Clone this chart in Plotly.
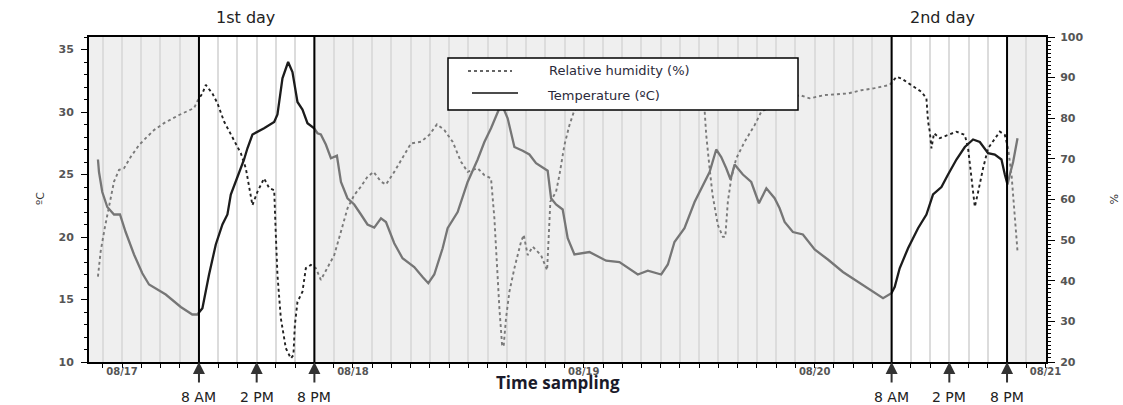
import pandas as pd
import plotly.graph_objects as go

BASE = pd.Timestamp("2014-08-17 00:00")

# ---- data (hours after 08/17 00:00) ----
temp_hours = [-2.50, -2.39, -2.05, -1.53, -0.83, -0.21, 0.38, 1.25, 2.11, 2.81, 4.55, 6.11, 7.31, 7.83,
              8.36, 9.05, 9.75, 10.44, 10.96, 11.31, 12.00, 12.69, 13.04, 13.56, 14.77, 15.82, 16.16,
              16.68, 17.27, 17.72, 18.24, 18.76, 19.28, 19.98, 20.32, 20.67, 21.19, 21.72, 22.34, 22.76,
              23.44, 24.14, 24.84, 25.52, 26.22, 26.92, 27.44, 28.30, 29.16, 30.38, 31.25, 31.84, 32.46,
              33.33, 33.85, 34.89, 35.93, 36.97, 37.67, 38.36, 39.23, 39.54, 40.09, 40.79, 41.65, 42.35,
              43.04, 43.91, 44.25, 44.60, 45.12, 45.81, 46.33, 47.03, 48.59, 50.33, 51.71, 53.62, 54.66,
              56.05, 56.74, 57.43, 58.47, 59.52, 60.21, 61.08, 61.77, 62.29, 62.81, 63.26, 63.68, 64.54,
              65.41, 66.21, 66.98, 67.84, 68.36, 68.88, 69.74, 70.78, 72.00, 73.38, 74.94, 76.50, 78.07,
              79.11, 79.98, 80.32, 80.84, 81.71, 82.75, 83.62, 84.31, 85.18, 85.87, 86.74, 87.61, 88.47,
              89.17, 90.03, 90.73, 91.42, 91.77, 92.05, 92.29, 92.63, 93.09]
temp_c = [26.2, 25.2, 23.6, 22.4, 21.8, 21.8, 20.4, 18.6, 17.1, 16.2, 15.4, 14.4, 13.8, 13.8,
          14.3, 17.0, 19.4, 21.0, 21.8, 23.4, 24.8, 26.2, 27.1, 28.2, 28.7, 29.2, 29.8,
          32.7, 34.0, 33.2, 30.8, 30.2, 29.1, 28.7, 28.3, 28.2, 27.4, 26.3, 26.5, 24.4,
          23.1, 22.6, 21.8, 21.0, 20.75, 21.5, 21.2, 19.5, 18.3, 17.6, 16.8, 16.3, 17.0,
          19.1, 20.7, 22.0, 24.4, 26.2, 27.6, 28.7, 30.3, 30.5, 29.5, 27.2, 26.9, 26.6,
          25.9, 25.5, 25.3, 23.1, 22.6, 22.2, 19.9, 18.6, 18.8, 18.1, 18.0, 17.0, 17.3,
          17.0, 17.8, 19.6, 20.7, 22.8, 23.9, 25.2, 27.0, 26.4, 25.5, 24.6, 25.8, 25.0,
          24.4, 22.7, 23.9, 23.1, 22.3, 21.2, 20.4, 20.2, 19.0, 18.2, 17.2, 16.4, 15.6,
          15.1, 15.5, 16.0, 17.5, 19.1, 20.7, 21.8, 23.4, 24.0, 25.0, 26.2, 27.2, 27.8,
          27.6, 26.7, 26.6, 26.2, 25.0, 24.2, 25.0, 26.0, 27.9]

rh_hours = [-2.50, -2.39, -2.22, -1.80, -1.35, -0.83, -0.31, 0.21, 0.91, 1.77, 2.47, 3.33, 4.37, 5.93,
            7.49, 7.83, 8.36, 8.71, 9.40, 9.92, 10.61, 11.48, 12.35, 12.87, 13.21, 13.56, 14.08, 14.77,
            15.30, 15.82, 15.99, 16.16, 16.51, 17.03, 17.55, 17.82, 17.97, 18.24, 18.76, 19.11, 19.63,
            20.15, 20.67, 21.36, 22.06, 22.76, 23.44, 24.14, 24.84, 25.52, 26.15, 26.92, 27.44, 28.30,
            29.16, 30.04, 31.08, 31.94, 32.74, 33.50, 34.37, 35.24, 35.93, 36.97, 37.67, 38.36, 38.71,
            38.99, 39.23, 39.51, 39.67, 39.92, 40.27, 40.79, 41.48, 41.76, 42.17, 42.69, 43.56, 44.19,
            44.53, 45.12, 45.47, 45.99, 46.51, 47.03, 48.59, 51.71, 54.83, 57.95, 60.03, 60.56, 60.73,
            61.08, 61.39, 61.94, 62.46, 62.71, 62.98, 63.33, 63.85, 64.72, 65.76, 66.45, 68.36, 70.44,
            71.48, 73.04, 75.47, 76.86, 78.24, 79.80, 80.50, 81.02, 82.06, 83.10, 83.62, 83.79, 83.97,
            84.14, 84.41, 85.01, 85.87, 86.74, 87.61, 87.95, 88.31, 88.65, 89.00, 89.51, 90.03, 90.73,
            91.25, 91.77, 92.11, 92.47, 92.74, 92.89, 93.09]
rh_pct = [41.0, 44.0, 47.2, 52.9, 58.6, 64.4, 67.3, 67.7, 70.5, 73.4, 75.1, 77.1, 78.8, 80.8,
          82.5, 84.2, 86.1, 88.2, 86.1, 83.7, 79.2, 75.1, 71.4, 67.7, 62.8, 58.6, 61.9, 65.2,
          62.8, 62.3, 51.3, 41.4, 30.8, 23.4, 20.9, 21.7, 29.1, 34.8, 37.3, 43.1, 43.9,
          43.1, 40.2, 43.1, 46.3, 52.1, 57.8, 61.1, 63.2, 65.6, 66.8, 64.4, 63.7, 66.8,
          70.1, 73.8, 74.2, 75.9, 78.5, 77.1, 74.2, 69.3, 66.8, 67.7, 66.0, 65.2, 55.4,
          43.1, 33.2, 24.2, 23.8, 30.8, 37.3, 43.1, 49.6, 51.3, 46.3, 48.4, 46.3, 42.6,
          59.5, 61.9, 66.0, 73.4, 78.3, 82.0, 84.5, 87.0, 88.0, 88.0, 86.0, 82.0, 75.9,
          67.7, 61.1, 53.7, 50.8, 50.8, 59.5, 65.2, 70.1, 74.2, 78.3, 81.6, 84.0, 85.7,
          84.9, 85.7, 86.1, 86.9, 87.4, 88.2, 90.2, 89.8, 88.2, 86.5, 84.9, 79.2, 76.7,
          72.6, 76.3, 75.1, 75.9, 76.7, 75.9, 72.6, 65.2, 58.2, 61.9, 67.7, 72.6, 75.1,
          76.7, 75.9, 72.6, 66.0, 57.8, 51.3, 47.2]

day_offsets = [0, 72]                 # 08/17 and 08/20
day_labels = ["1st day", "2nd day"]
sample_hours = [8, 14, 20]
sample_labels = ["8 AM", "2 PM", "8 PM"]
x_start_h, x_end_h = -3.43, 96.05


def ts(h):
    return BASE + pd.to_timedelta(h, unit="h")


# plot area geometry helpers (pixels -> paper)
L, R, T, B = 89, 1046, 37, 362


def px(xp):
    return (xp - L) / (R - L)


def py(yp):
    return (B - yp) / (B - T)


fig = go.Figure()

fig.add_trace(go.Scatter(
    x=[ts(h) for h in rh_hours], y=rh_pct, yaxis="y2", mode="lines",
    line=dict(color="#222222", width=1.9, dash="dot"),
    name="Relative humidity (%)", showlegend=False))

fig.add_trace(go.Scatter(
    x=[ts(h) for h in temp_hours], y=temp_c, mode="lines",
    line=dict(color="#1c1c1c", width=2.3),
    name="Temperature (ºC)", showlegend=False))

shapes = []
# night-time shading (semi-transparent, drawn over traces)
band_edges = [(x_start_h, day_offsets[0] + 8),
              (day_offsets[0] + 20, day_offsets[1] + 8),
              (day_offsets[1] + 20, x_end_h)]
for a, b in band_edges:
    shapes.append(dict(type="rect", xref="x", yref="paper", x0=ts(a), x1=ts(b), y0=0, y1=1,
                       fillcolor="rgba(222,222,222,0.47)", line=dict(width=0), layer="above"))
# sampling window boundaries
for d in day_offsets:
    for h in (8, 20):
        shapes.append(dict(type="line", xref="x", yref="paper", x0=ts(d + h), x1=ts(d + h),
                           y0=0, y1=1, line=dict(color="black", width=2), layer="above"))
# custom legend
shapes.append(dict(type="rect", xref="paper", yref="paper", x0=px(448), x1=px(798),
                   y0=py(110), y1=py(58), fillcolor="white",
                   line=dict(color="black", width=1.5), layer="above"))
shapes.append(dict(type="line", xref="paper", yref="paper", x0=px(468), x1=px(512),
                   y0=py(71), y1=py(71), line=dict(color="#333", width=1.5, dash="dot"),
                   layer="above"))
shapes.append(dict(type="line", xref="paper", yref="paper", x0=px(472), x1=px(518),
                   y0=py(93), y1=py(93), line=dict(color="#111", width=1.5), layer="above"))

annotations = [
    dict(text="Relative humidity (%)", xref="paper", yref="paper", x=px(547), y=py(70),
         xanchor="left", yanchor="middle", showarrow=False,
         font=dict(family="DejaVu Sans", size=13, color="#2a2a3a")),
    dict(text="Temperature (ºC)", xref="paper", yref="paper", x=px(545), y=py(95),
         xanchor="left", yanchor="middle", showarrow=False,
         font=dict(family="DejaVu Sans", size=13, color="#2a2a3a")),
    dict(text="Time sampling", xref="paper", yref="paper", x=px(558), y=py(383),
         xanchor="center", yanchor="middle", showarrow=False,
         font=dict(family="Open Sans", size=17, color="#1a1a2a", weight="bold")),
    dict(text="ºC", xref="paper", yref="paper", x=px(40), y=py(199), textangle=-90,
         xanchor="center", yanchor="middle", showarrow=False,
         font=dict(family="DejaVu Sans", size=11, color="#333")),
    dict(text="%", xref="paper", yref="paper", x=px(1114), y=py(199), textangle=90,
         xanchor="center", yanchor="middle", showarrow=False,
         font=dict(family="DejaVu Sans", size=11, color="#333")),
]
day_label_x = [245, 942]
for lbl, xc in zip(day_labels, day_label_x):
    annotations.append(dict(text=lbl, xref="paper", yref="paper", x=px(xc), y=py(18),
                            xanchor="center", yanchor="middle", showarrow=False,
                            font=dict(family="DejaVu Sans", size=16, color="#222")))
for d in day_offsets:
    for h, lbl in zip(sample_hours, sample_labels):
        annotations.append(dict(text="", xref="x", yref="paper", x=ts(d + h), y=0,
                                ax=0, ay=22, showarrow=True, arrowhead=2, arrowsize=1.2,
                                arrowwidth=2, arrowcolor="#333", standoff=0))
        annotations.append(dict(text=lbl, xref="x", yref="paper", x=ts(d + h), y=py(397),
                                xanchor="center", yanchor="middle", showarrow=False,
                                font=dict(family="DejaVu Sans", size=14, color="#222")))

tickfont = dict(family="DejaVu Sans", size=11, color="#555", weight="bold")

fig.update_layout(
    width=1123, height=405,
    margin=dict(l=L, r=1123 - R, t=T, b=405 - B, pad=0, autoexpand=False),
    paper_bgcolor="white", plot_bgcolor="white",
    shapes=shapes, annotations=annotations, showlegend=False,
    xaxis=dict(type="date", range=[ts(x_start_h), ts(x_end_h)],
               tick0=BASE, dtick=86400000, tickformat="%m/%d",
               ticks="outside", ticklen=4, tickcolor="black", tickwidth=1,
               ticklabelstandoff=-5,
               showline=True, linecolor="black", linewidth=1.5, mirror=True,
               showgrid=True, gridcolor="#dcdcdc", gridwidth=2, zeroline=False,
               tickfont=dict(family="DejaVu Sans", size=10, color="#555", weight="bold"),
               automargin=False,
               minor=dict(tick0=BASE, dtick=7200000, ticks="outside", ticklen=4,
                          tickcolor="black", showgrid=True, gridcolor="#dcdcdc",
                          gridwidth=2)),
    yaxis=dict(range=[10, 36], tick0=10, dtick=5, ticks="outside", ticklen=6,
               tickcolor="black", showline=True, linecolor="black", linewidth=2,
               ticklabelstandoff=5,
               showgrid=False, zeroline=False, tickfont=tickfont, automargin=False,
               minor=dict(dtick=1, ticks="outside", ticklen=3, tickcolor="black",
                          showgrid=False)),
    yaxis2=dict(range=[20, 100], tick0=20, dtick=10, overlaying="y", side="right",
                ticks="outside", ticklen=7, tickcolor="black", showline=True,
                linecolor="black", linewidth=2, showgrid=False, zeroline=False,
                ticklabelstandoff=3,
                tickfont=tickfont, automargin=False,
                minor=dict(dtick=1, ticks="outside", ticklen=3, tickcolor="black",
                           showgrid=False)),
)

fig.write_html("out.html", config={"displayModeBar": False},
               post_script="document.body.style.margin='0';document.body.style.overflow='hidden';")
